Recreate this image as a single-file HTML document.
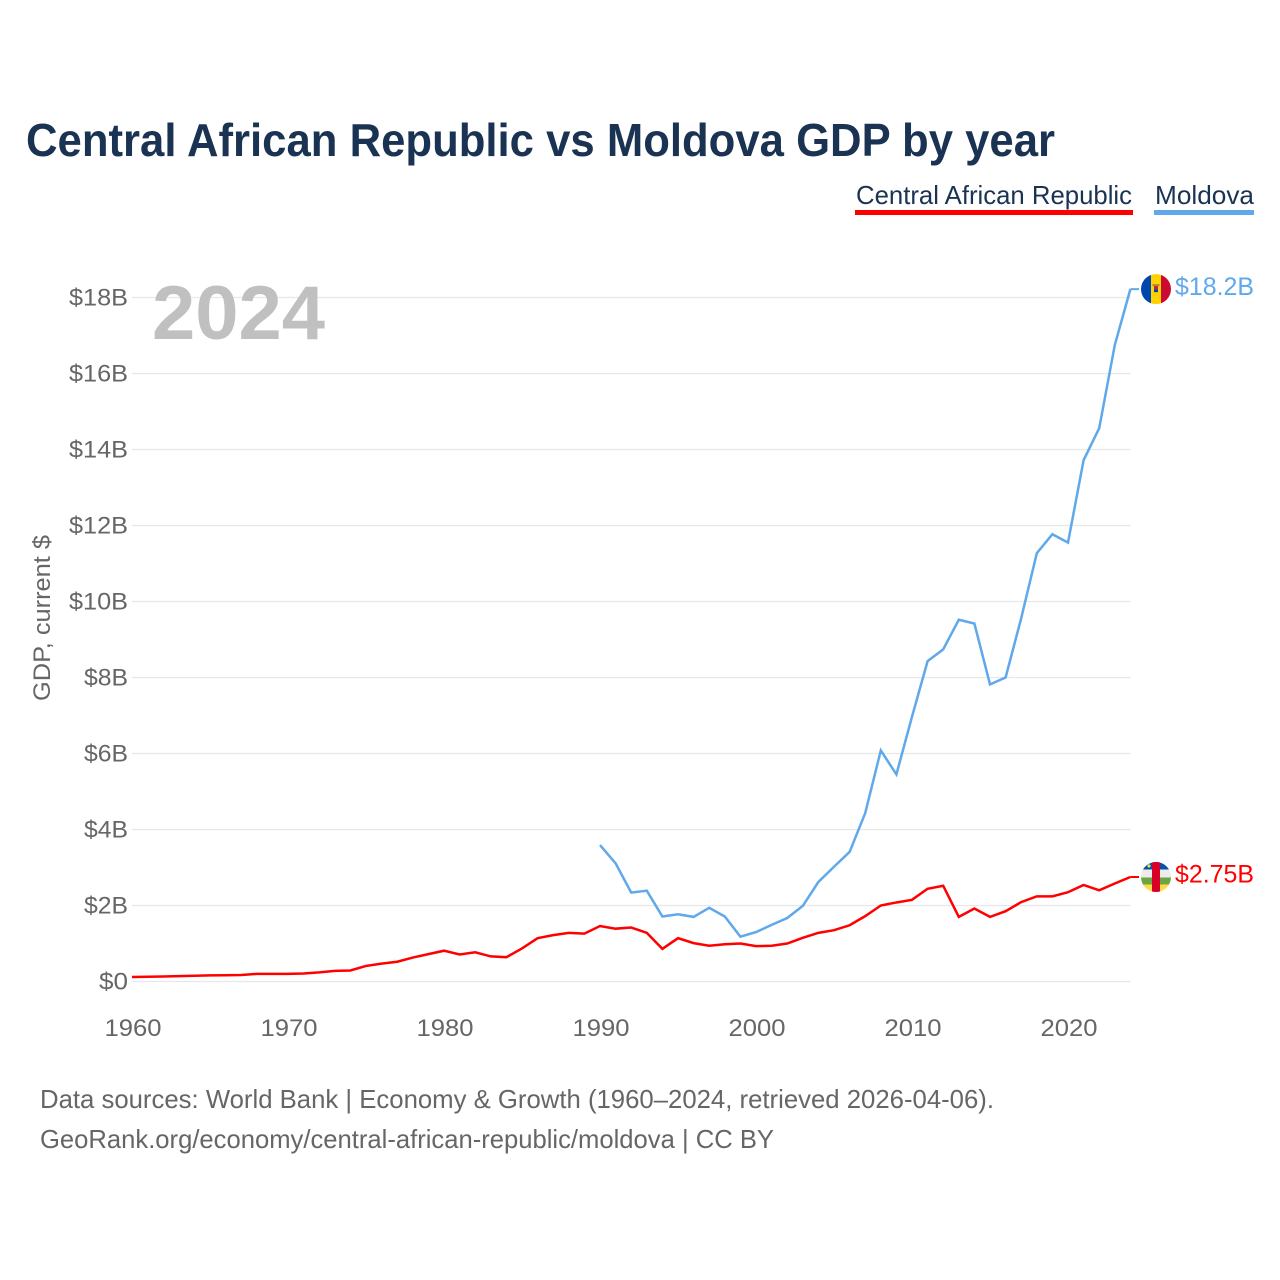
<!DOCTYPE html>
<html lang="en">
<head>
<meta charset="utf-8">
<title>Central African Republic vs Moldova GDP by year</title>
<style>
  html, body { margin: 0; padding: 0; background: #fff; }
  svg { display: block; }
  text { font-family: "Liberation Sans", sans-serif; }
</style>
</head>
<body>
<svg id="chart" xmlns="http://www.w3.org/2000/svg" width="1280" height="1280" viewBox="0 0 1280 1280">
  <rect width="1280" height="1280" fill="#ffffff"/>
  <text x="26" y="156" font-size="46" font-weight="700" fill="#1a3353" textLength="1029" lengthAdjust="spacingAndGlyphs">Central African Republic vs Moldova GDP by year</text>

  <g>
    <text x="856" y="204" font-size="26" fill="#1a3353" textLength="276" lengthAdjust="spacingAndGlyphs">Central African Republic</text>
    <rect x="855" y="210" width="278" height="5" fill="#ff0000"/>
  </g>
  <g>
    <text x="1155" y="204" font-size="26" fill="#1a3353" textLength="99" lengthAdjust="spacingAndGlyphs">Moldova</text>
    <rect x="1154" y="210" width="100" height="5" fill="#5fa8ec"/>
  </g>

  <g id="grid"></g>
  <g id="y-ticks"></g>
  <g id="x-ticks"></g>

  <text transform="translate(50,701) rotate(-90)" font-size="24" fill="#666666" textLength="166" lengthAdjust="spacingAndGlyphs">GDP, current $</text>

  <text id="year-label" x="152" y="339" font-size="76" font-weight="700" fill="#c0c0c0" textLength="173" lengthAdjust="spacingAndGlyphs"></text>

  <g id="series"></g>

  <defs>
    <clipPath id="flag-clip-md"><circle id="md-clip-circle" cx="1156" cy="289" r="15"/></clipPath>
    <clipPath id="flag-clip-cf"><circle id="cf-clip-circle" cx="1156" cy="876" r="15"/></clipPath>
  </defs>

  <g id="flag-md" clip-path="url(#flag-clip-md)">
    <rect x="1141" y="274" width="10" height="30" fill="#0046ae"/>
    <rect x="1151" y="274" width="10" height="30" fill="#ffd200"/>
    <rect x="1161" y="274" width="10" height="30" fill="#cc092f"/>
    <rect x="1152.5" y="284" width="7" height="2" fill="#b5803a"/>
    <rect x="1154" y="286" width="4" height="3" fill="#c8202f"/>
    <rect x="1154" y="289" width="4" height="3" fill="#0046ae"/>
  </g>
  <g id="flag-cf" clip-path="url(#flag-clip-cf)">
    <rect x="1141" y="861" width="30" height="7.5" fill="#0a50a8"/>
    <rect x="1141" y="868.5" width="30" height="8" fill="#ececec"/>
    <rect x="1141" y="876.5" width="30" height="7" fill="#6da544"/>
    <rect x="1141" y="883.5" width="30" height="8" fill="#ffda44"/>
    <rect x="1152" y="861" width="8" height="30" fill="#d80027"/>
    <circle cx="1149" cy="865" r="1.6" fill="#ffda44"/>
  </g>

  <g id="value-labels"></g>

  <text x="40" y="1108" font-size="26" fill="#666666" textLength="954" lengthAdjust="spacingAndGlyphs">Data sources: World Bank | Economy &amp; Growth (1960–2024, retrieved 2026-04-06).</text>
  <text x="40" y="1148" font-size="26" fill="#666666" textLength="734" lengthAdjust="spacingAndGlyphs">GeoRank.org/economy/central-african-republic/moldova | CC BY</text>
</svg>

<script>
var firstYear = 1960;
var xTickYears = [1960, 1970, 1980, 1990, 2000, 2010, 2020];
var yTickValues = [0, 2, 4, 6, 8, 10, 12, 14, 16, 18];
var yTickLabels = ["$0", "$2B", "$4B", "$6B", "$8B", "$10B", "$12B", "$14B", "$16B", "$18B"];

var carGdp = [0.12, 0.125, 0.13, 0.14, 0.15, 0.16, 0.165, 0.17, 0.20, 0.20,
  0.20, 0.21, 0.24, 0.28, 0.29, 0.41, 0.47, 0.52, 0.63, 0.72,
  0.81, 0.71, 0.77, 0.66, 0.64, 0.87, 1.14, 1.22, 1.28, 1.26,
  1.46, 1.39, 1.42, 1.28, 0.86, 1.14, 1.01, 0.94, 0.98, 1.00,
  0.93, 0.94, 1.00, 1.15, 1.28, 1.35, 1.48, 1.72, 2.00, 2.08,
  2.15, 2.44, 2.52, 1.70, 1.92, 1.70, 1.85, 2.09, 2.24, 2.24,
  2.35, 2.54, 2.40, 2.58, 2.75];

var moldovaGdp = [null, null, null, null, null, null, null, null, null, null,
  null, null, null, null, null, null, null, null, null, null,
  null, null, null, null, null, null, null, null, null, null,
  3.59, 3.11, 2.34, 2.39, 1.71, 1.77, 1.70, 1.94, 1.71, 1.18,
  1.30, 1.49, 1.67, 1.99, 2.62, 3.02, 3.41, 4.43, 6.08, 5.45,
  6.97, 8.43, 8.74, 9.52, 9.42, 7.82, 8.00, 9.56, 11.27, 11.77,
  11.55, 13.72, 14.56, 16.75, 18.22];

var carEndLabel = "$2.75B";
var moldovaEndLabel = "$18.2B";
var currentYearLabel = "2024";

var SVG_NS = "http://www.w3.org/2000/svg";
var plotLeft = 132, plotYearWidth = 15.6, plotZero = 981.5, plotPerBillion = 38;
var lastYear = firstYear + carGdp.length - 1;

function xScale(year) { return plotLeft + (year - firstYear) * plotYearWidth; }
function yScale(value) { return plotZero - value * plotPerBillion; }

function make(tag, attrs, parent) {
  var node = document.createElementNS(SVG_NS, tag);
  for (var key in attrs) { node.setAttribute(key, attrs[key]); }
  parent.appendChild(node);
  return node;
}

function linePath(values) {
  var d = "", pen = false;
  values.forEach(function (v, i) {
    if (v === null) { pen = false; return; }
    d += (pen ? "L" : "M") + xScale(firstYear + i).toFixed(2) + " " + yScale(v).toFixed(2);
    pen = true;
  });
  return d;
}

var gridGroup = document.getElementById("grid");
var yGroup = document.getElementById("y-ticks");
var xGroup = document.getElementById("x-ticks");
var seriesGroup = document.getElementById("series");
var labelGroup = document.getElementById("value-labels");

yTickValues.forEach(function (v, i) {
  var gl = make("line", { x1: plotLeft, x2: xScale(lastYear) + 0.5, y1: yScale(v), y2: yScale(v), stroke: "#e8e8e8", "stroke-width": 1.2 }, gridGroup);
  
  
  var label = yTickLabels[i];
  var t = make("text", { x: 128, y: yScale(v) + 8, "font-size": 24, fill: "#666666", "text-anchor": "end", textLength: label.length * 15 - 1, lengthAdjust: "spacingAndGlyphs" }, yGroup);
  
  
  t.textContent = label;
});

xTickYears.forEach(function (yr) {
  var t = make("text", { x: xScale(yr) + 1, y: 1036, "font-size": 24, fill: "#666666", "text-anchor": "middle", textLength: 57, lengthAdjust: "spacingAndGlyphs" }, xGroup);
  
  
  t.textContent = String(yr);
});

var carLine = make("path", { d: linePath(carGdp), fill: "none", stroke: "#ff0000", "stroke-width": 2.5, "stroke-linejoin": "miter" }, seriesGroup);



var moldovaLine = make("path", { d: linePath(moldovaGdp), fill: "none", stroke: "#5fa8ec", "stroke-width": 2.5, "stroke-linejoin": "miter" }, seriesGroup);



var carEnd = carGdp[carGdp.length - 1];
var moldovaEnd = moldovaGdp[moldovaGdp.length - 1];

var carLeader = make("line", { x1: xScale(lastYear), x2: 1139, y1: yScale(carEnd), y2: yScale(carEnd), stroke: "#ff0000", "stroke-width": 2 }, seriesGroup);



var moldovaLeader = make("line", { x1: xScale(lastYear), x2: 1139, y1: yScale(moldovaEnd), y2: yScale(moldovaEnd), stroke: "#5fa8ec", "stroke-width": 2 }, seriesGroup);



var carLabel = make("text", { x: 1175, y: yScale(carEnd) + 5.5, "font-size": 25, fill: "#ff0000", textLength: 79, lengthAdjust: "spacingAndGlyphs" }, labelGroup);


carLabel.textContent = carEndLabel;

var moldovaLabel = make("text", { x: 1175, y: yScale(moldovaEnd) + 6, "font-size": 25, fill: "#5fa8ec", textLength: 79, lengthAdjust: "spacingAndGlyphs" }, labelGroup);


moldovaLabel.textContent = moldovaEndLabel;

document.getElementById("flag-md").setAttribute("transform", "translate(0," + (yScale(moldovaEnd) - 289) + ")");
document.getElementById("flag-cf").setAttribute("transform", "translate(0," + (yScale(carEnd) - 876) + ")");
document.getElementById("year-label").textContent = currentYearLabel;
</script>
</body>
</html>
